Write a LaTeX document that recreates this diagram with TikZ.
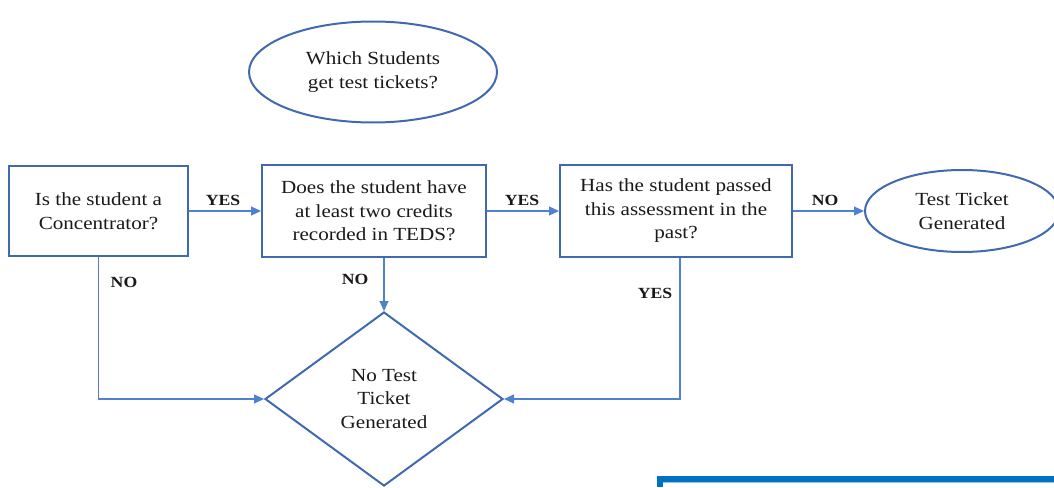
\documentclass[tikz,border=0pt]{standalone}
\usepackage{fontspec}
\setmainfont{Liberation Serif}[FakeStretch=1.14]
\usetikzlibrary{shapes.geometric,arrows.meta}
\definecolor{nodeblue}{HTML}{4169B0}
\definecolor{linkblue}{HTML}{4F81D0}
\definecolor{barblue}{HTML}{0070C0}
\definecolor{barlight}{HTML}{9CC3E6}
\tikzset{
  every node/.style={text=black!90, inner sep=0pt},
  body/.style={font=\fontsize{18.5}{23.5}\selectfont, align=center},
  stepbox/.style={body, draw=nodeblue, line width=2pt, rectangle},
  oval/.style={body, draw=nodeblue, line width=2pt, ellipse},
  decide/.style={body, draw=nodeblue, line width=2pt, diamond},
  link/.style={draw=linkblue, line width=1.1pt, -{Triangle[length=10pt,width=9pt]}},
  lab/.style={font=\bfseries\fontsize{15.5}{17}\selectfont}
}
\begin{document}
\begin{tikzpicture}[x=1pt,y=-1pt]
\useasboundingbox (0,0) rectangle (1054,487);
\clip (0,0) rectangle (1054,487);

\node[oval, minimum width=248pt, minimum height=101pt] (q) at (373,72) {Which Students\\get test tickets?};

\node[stepbox, minimum width=179pt, minimum height=90pt] (b1) at (98.5,211) {Is the student a\\Concentrator?};
\node[stepbox, minimum width=224pt, minimum height=92pt] (b2) at (374,211) {Does the student have\\at least two credits\\recorded in TEDS?};
\node[stepbox, minimum width=232pt, minimum height=92pt] (b3) at (676,211) {Has the student passed\\this assessment in the\\past?};
\node[oval, minimum width=194pt, minimum height=82pt] (t) at (962,211) {Test Ticket\\Generated};

\node[decide, minimum width=238pt, minimum height=174pt] (d) at (384,399) {No Test\\Ticket\\Generated};

\draw[link] (b1) -- (b2);
\draw[link] (b2) -- (b3);
\draw[link] (b3) -- (t);
\draw[link] (d.north |- b2.south) -- (d.north);
\draw[link] (b1.south) |- (d.west);
\draw[link] (b3.south -| 680,0) |- (d.east);

\node[lab] (l1) at (223,200) {YES};
\node[lab] (l2) at (522,200) {YES};
\node[lab] (l3) at (825,200) {NO};
\node[lab] (l4) at (355,279) {NO};
\node[lab] (l5) at (124,282) {NO};
\node[lab] (l6) at (655,293) {YES};

\fill[barblue] (657,476) rectangle (1054,482);
\fill[barblue] (657,476) rectangle (663,487);
\fill[barlight] (663,482) rectangle (1054,483.2);
\end{tikzpicture}
\end{document}
